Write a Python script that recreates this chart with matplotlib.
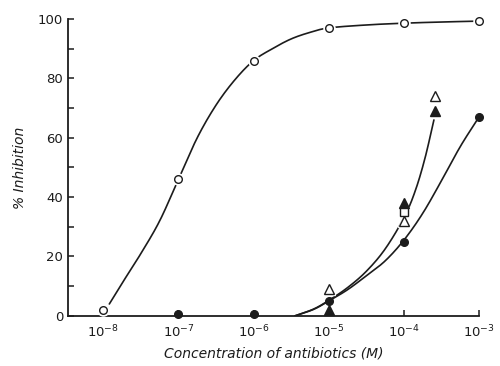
import numpy as np
from matplotlib import pyplot as plt

# measured points (concentration in M, % inhibition)
openCircX = [1e-8, 1e-7, 1e-6, 1e-5, 1e-4, 1e-3]
openCircY = [2, 46, 86, 97, 98.6, 99.3]

fillCircX = [1e-7, 1e-6, 1e-5, 1e-4, 1e-3]
fillCircY = [0.5, 0.5, 5, 25, 67]

fillTriX = [1e-5, 1e-4, 2.6e-4]
fillTriY = [2, 38, 69]

openTriX = [1e-5, 1e-4, 2.6e-4]
openTriY = [9, 32, 74]

openSqX = [1e-4]
openSqY = [35]

# hand drawn curves (log10 of conc, %)
curveALog = [-7.92, -7.75, -7.5, -7.25, -7.0, -6.75, -6.5, -6.25,
             -6.0, -5.75, -5.5, -5.25, -5.0, -4.5, -4.0, -3.5, -3.0]
curveAY = [4, 11, 21, 32, 46, 60, 71, 79.5,
           86, 90, 93.3, 95.5, 97, 98, 98.6, 99, 99.3]

curveBLog = [-5.45, -5.2, -5.0, -4.75, -4.5, -4.25, -4.0,
             -3.75, -3.5, -3.25, -3.0]
curveBY = [0, 2.2, 5, 8.8, 13.5, 18.5, 25.5,
           34.5, 45.5, 57, 67]

curveCLog = [-5.45, -5.2, -5.0, -4.75, -4.5, -4.25, -4.0,
             -3.85, -3.72, -3.6]
curveCY = [0, 2.3, 5.2, 9.5, 15, 22.5, 33,
           42, 53, 66]

xTicks = [1e-8, 1e-7, 1e-6, 1e-5, 1e-4, 1e-3]
xTickLabels = [r'$10^{-8}$', r'$10^{-7}$', r'$10^{-6}$',
               r'$10^{-5}$', r'$10^{-4}$', r'$10^{-3}$']
yTicks = [0, 20, 40, 60, 80, 100]


def smoothCurve(xs, ys, n=20):
    # catmull-rom through the read points, only to draw a smooth stroke
    p = np.column_stack([xs, ys]).astype(float)
    p = np.vstack([2 * p[0] - p[1], p, 2 * p[-1] - p[-2]])
    out = []
    t = np.linspace(0, 1, n, endpoint=False)[:, None]
    for i in range(1, len(p) - 2):
        p0, p1, p2, p3 = p[i - 1], p[i], p[i + 1], p[i + 2]
        seg = 0.5 * ((2 * p1) + (-p0 + p2) * t +
                     (2 * p0 - 5 * p1 + 4 * p2 - p3) * t**2 +
                     (-p0 + 3 * p1 - 3 * p2 + p3) * t**3)
        out.append(seg)
    out.append(p[-2][None, :])
    out = np.vstack(out)
    return out[:, 0], out[:, 1]


ink = '#1c1c1c'
plt.rcParams['font.family'] = ['DejaVu Sans']

fig = plt.figure(figsize=(5, 3.66), dpi=100)
ax = fig.add_axes([0.136, 0.137, 0.822, 0.811])
ax.set_xscale('log')

# curves
lw = 1.2
for cLog, cY in [(curveALog, curveAY), (curveBLog, curveBY), (curveCLog, curveCY)]:
    sx, sy = smoothCurve(cLog, cY)
    ax.plot(10**sx, sy, color=ink, lw=lw, solid_capstyle='round')

# white halo so the curves break at the open markers
halo = dict(ls='none', clip_on=False, zorder=4, mfc='white', mec='white')
ax.plot(openCircX, openCircY, marker='o', ms=8, **halo)
ax.plot(openTriX, openTriY, marker='^', ms=8.5, **halo)
ax.plot(openSqX, openSqY, marker='s', ms=7.5, **halo)

# markers
kw = dict(ls='none', clip_on=False, zorder=5, mew=1.0)
ax.plot(openCircX, openCircY, marker='o', ms=5.5, mfc='white', mec=ink, **kw)
ax.plot(fillCircX, fillCircY, marker='o', ms=5.5, mfc=ink, mec=ink, **kw)
ax.plot(fillTriX, fillTriY, marker='^', ms=6.5, mfc=ink, mec=ink, **kw)
ax.plot(openTriX, openTriY, marker='^', ms=6.5, mfc='white', mec=ink, **kw)
ax.plot(openSqX, openSqY, marker='s', ms=5.5, mfc='white', mec=ink, **kw)

ax.set_xlim(10**-8.47, 1e-3)
ax.set_ylim(0, 100)

ax.spines['top'].set_visible(False)
ax.spines['right'].set_visible(False)
ax.spines['left'].set_color(ink)
ax.spines['bottom'].set_color(ink)
ax.spines['left'].set_linewidth(1.3)
ax.spines['bottom'].set_linewidth(1.3)

ax.set_xticks(xTicks)
ax.set_xticklabels(xTickLabels)
ax.xaxis.set_minor_locator(plt.NullLocator())
ax.set_yticks(yTicks)
ax.set_yticks(np.arange(10, 100, 20), minor=True)
ax.tick_params(axis='both', which='both', direction='in', length=4,
               width=1.1, color=ink, labelcolor=ink, labelsize=9.5)
ax.tick_params(axis='x', pad=6)

ax.set_xlabel('Concentration of antibiotics (M)', fontsize=10, style='italic',
              color=ink, labelpad=4)
ax.set_ylabel('% Inhibition', fontsize=10, style='italic', color=ink,
              labelpad=8)

fig.savefig('out.png', dpi=100)
